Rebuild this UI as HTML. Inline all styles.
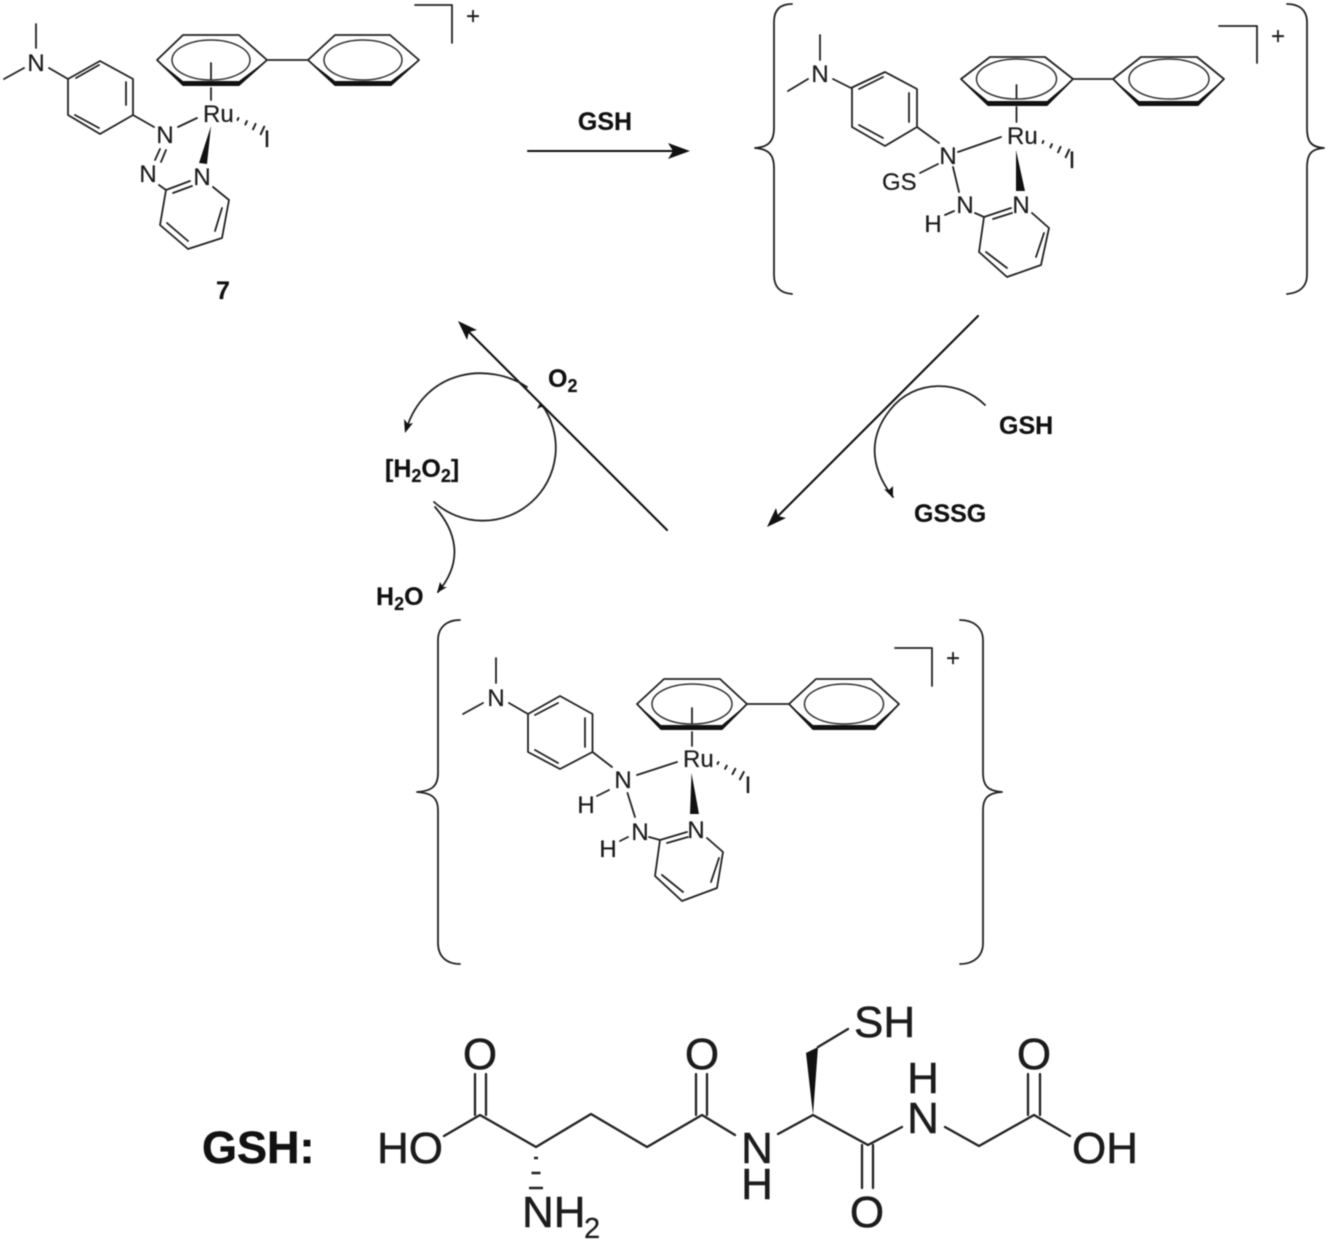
<!DOCTYPE html>
<html><head><meta charset="utf-8"><style>
html,body{margin:0;padding:0;background:#fff}
svg{display:block;filter:blur(.55px)}
text{font-family:"Liberation Sans",Arial,sans-serif;fill:#1c1c1c;stroke:#1c1c1c;stroke-width:.2}
.t{font-size:24px}
.c{text-anchor:middle}
.b{font-weight:bold;font-size:25px;fill:#111}
.g{font-size:44px;stroke-width:.5}
.s{fill:none;stroke:#222;stroke-width:1.8;stroke-linecap:round;stroke-linejoin:round}
.e{fill:none;stroke:#333;stroke-width:1.5}
.k{fill:#111;stroke:none}
.a{fill:none;stroke:#111;stroke-width:2.1;stroke-linecap:round}
.m{fill:none;stroke:#222;stroke-width:2.3;stroke-linecap:round;stroke-linejoin:round}
</style></head><body>
<svg width="1328" height="1243" viewBox="0 0 1328 1243" xmlns="http://www.w3.org/2000/svg">
<defs>
<g id="hash" class="s" style="stroke-width:2"><path d="M0,-1V1M9,-1.8V1.8M18,-3V3M27,-4.2V4.2"/></g>
</defs>

<!-- Complex 7 -->
<g>
<path class="s" d="M36,24V48M4,79L24,68M49,68L68,79L100,61L133,79V115L100,134L68,115V79M76,78L99,65M126,82V105M75,115L99,128M133,115L154,127M178,127L197,118"/>
<path class="s" d="M160,149L155,160M166,150L161,162M159,185L166,190L190,181M173,193L192,186M213,187L229,200L222,238L188,249L160,225L166,190M222,208L215,231M167,223L188,241"/>
<polygon class="k" points="211,126 199,163 207,164"/>
<use href="#hash" transform="translate(238,119) rotate(25)"/>
<path class="s" d="M157,60L183,35H239L267,60L239,85H183ZM267,60H308M308,60L335,35H390L419,60L391,85H335Z"/>
<polygon class="k" points="157,60 183,86 239,86 267,60 239,81 183,81"/>
<polygon class="k" points="308,60 335,86 391,86 419,60 391,81 335,81"/>
<ellipse class="e" cx="211" cy="60" rx="39" ry="20"/>
<ellipse class="e" cx="363" cy="60" rx="39" ry="20"/>
<path class="s" d="M211,63V79M211,88V100M415,5H452V43"/>
<text class="t c" x="36" y="71">N</text>
<text class="t c" x="165" y="143">N</text>
<text class="t c" x="148" y="182">N</text>
<text class="t c" x="202" y="185">N</text>
<text class="t" x="203" y="122">Ru</text>
<text class="t c" x="267" y="147">I</text>
<text class="t c" x="473" y="24">+</text>
<text class="b c" x="223" y="299">7</text>
</g>

<!-- Complex 2 -->
<g>
<path class="s" d="M792,4C780,4 774,10 774,22V128C774,142 768,147 755,148C768,149 774,154 774,168V275C774,287 780,293 792,294"/>
<path class="s" d="M1287,4C1299,4 1307,10 1307,22V128C1307,142 1311,147 1324,148C1311,149 1307,154 1307,168V275C1307,287 1299,293 1287,294"/>
<path class="s" d="M820,35V60M788,91L808,79M833,79L851,88L885,72L917,89V127L885,146L852,127V88M859,89L883,77M909,93V122M859,125L883,138M917,127L939,143M958,152L1001,137M920,173L938,164M953,167L959,192M945,215L954,211M975,213L984,217L1011,208M993,219L1012,213M1032,213L1049,228L1041,265L1007,277L979,252L984,217M1044,233L1036,257M986,252L1007,268"/>
<polygon class="k" points="1016,150 1016,191 1025,191"/>
<use href="#hash" transform="translate(1043,142) rotate(25)"/>
<path class="s" d="M961,79L990,57H1045L1073,79L1047,105H988ZM1073,79H1113M1113,79L1141,57H1197L1224,79L1198,105H1139Z"/>
<polygon class="k" points="961,79 988,106 1047,106 1073,79 1047,101 988,101"/>
<polygon class="k" points="1113,79 1139,106 1198,106 1224,79 1198,101 1139,101"/>
<ellipse class="e" cx="1016.5" cy="79" rx="40" ry="20"/>
<ellipse class="e" cx="1169" cy="79" rx="40" ry="20"/>
<path class="s" d="M1016.5,85V98M1016.5,107V122M1219,26H1257V63"/>
<text class="t c" x="820" y="82">N</text>
<text class="t c" x="948" y="164">N</text>
<text class="t" x="882" y="190">GS</text>
<text class="t c" x="965" y="213">N</text>
<text class="t c" x="933" y="232">H</text>
<text class="t c" x="1021" y="213">N</text>
<text class="t" x="1007" y="144">Ru</text>
<text class="t c" x="1072" y="168">I</text>
<text class="t c" x="1278" y="44">+</text>
</g>

<!-- Complex 3 -->
<g>
<path class="s" d="M460,620C446,620 438,628 438,640V773C438,786 432,791 417,792C432,793 438,798 438,810V943C438,956 446,964 460,964"/>
<path class="s" d="M960,620C974,620 983,628 983,640V773C983,786 988,791 1002,792C988,793 983,798 983,810V943C983,956 974,964 960,964"/>
<path class="s" d="M496,658V683M463,714L483,703M509,703L528,714L560,696L592.5,714V752L560,769L528,752V714M535,715L558,703M585,718V747M535,750L558,763M592.5,752L612,767M637,775L677,762M597,796L609,790M627.5,793L635,817M620,841L628,837M649,837L660,840L687,832M667,843L688,837M707,838L723,852L717,888L682,901L655,876L660,840M719,858L711,882M662,875L683,892"/>
<polygon class="k" points="691.5,773 690,814 699,814"/>
<use href="#hash" transform="translate(718,763) rotate(28)"/>
<path class="s" d="M637,704L664,679H720L747,704L722,729H661ZM747,704H789M789,704L816,679H871L899,704L875,729H813Z"/>
<polygon class="k" points="637,704 661,730 722,730 747,704 722,725 661,725"/>
<polygon class="k" points="789,704 813,730 875,730 899,704 875,725 813,725"/>
<ellipse class="e" cx="692" cy="704" rx="40" ry="20"/>
<ellipse class="e" cx="844" cy="704" rx="39.5" ry="20"/>
<path class="s" d="M692,708V723M692,732V746M895,648H932V686"/>
<text class="t c" x="496" y="706">N</text>
<text class="t c" x="623" y="788">N</text>
<text class="t c" x="586" y="813">H</text>
<text class="t c" x="640" y="840">N</text>
<text class="t c" x="608" y="857">H</text>
<text class="t c" x="696" y="838">N</text>
<text class="t" x="683" y="767">Ru</text>
<text class="t c" x="748" y="793">I</text>
<text class="t c" x="953" y="666">+</text>
</g>

<!-- Reaction arrows -->
<path class="a" d="M528,151H678"/>
<polygon class="k" points="690,151 668,143 673,151 668,159"/>
<text class="b c" x="605" y="130">GSH</text>
<path class="a" d="M978,316L776,518"/>
<polygon class="k" points="767,527 776,508 778,516 786,518"/>
<path class="a" d="M667,530L467,330"/>
<polygon class="k" points="458,321 477,330 469,332 467,340"/>
<path class="s" d="M985,405C960,380 915,378 890,410C870,435 868,465 893,497"/>
<polygon class="k" points="893,498 884,489 889,490 893,486"/>
<text class="b" x="999" y="434">GSH</text>
<text class="b" x="914" y="522">GSSG</text>
<path class="s" d="M434,502A73,73 0 0 0 542,405"/>
<polygon class="k" points="540,403 537,409 541,407 547,409"/>
<path class="s" d="M527,387C490,362 425,368 406,430"/>
<polygon class="k" points="405,433 404,419 408,424 413,423"/>
<path class="s" d="M435,507C455,530 465,560 438,592"/>
<polygon class="k" points="437,593 440,582 443,587 447,587"/>
<text class="b" x="548" y="387">O<tspan font-size="18" dy="5">2</tspan></text>
<text class="b" x="385" y="477">[H<tspan font-size="18" dy="5">2</tspan><tspan dy="-5">O</tspan><tspan font-size="18" dy="5">2</tspan><tspan dy="-5">]</tspan></text>
<text class="b" x="376" y="605">H<tspan font-size="18" dy="5">2</tspan><tspan dy="-5">O</tspan></text>

<!-- GSH structure -->
<text class="b g" x="202" y="1163" style="font-size:45px">GSH:</text>
<path class="m" d="M444,1136L480,1115L536,1147L591,1114L647,1147L702,1115L735,1135M475,1074V1115M486,1074V1115M696,1074V1115M707,1074V1115M778,1134L813,1115L868,1145L902,1127M945,1127L979,1146L1034,1115L1070,1136M1028,1074V1115M1040,1074V1115M862,1145V1188M873,1145V1188M818,1047L848,1029"/>
<polygon class="k" points="813,1115 806,1053 818,1047"/>
<path d="M534,1158H538M531.5,1173H540.5M529,1188H543" stroke="#222" stroke-width="2.4" fill="none"/>
<text class="g" x="377" y="1163">HO</text>
<text class="g c" x="480" y="1069">O</text>
<text class="g c" x="702" y="1069">O</text>
<text class="g c" x="1034" y="1069">O</text>
<text class="g c" x="757" y="1163">N</text>
<text class="g c" x="757" y="1199">H</text>
<text class="g c" x="923" y="1133">N</text>
<text class="g c" x="923" y="1093">H</text>
<text class="g c" x="867" y="1227">O</text>
<text class="g" x="1072" y="1163">OH</text>
<text class="g" x="854" y="1037">SH</text>
<text class="g" x="522" y="1227">NH</text>
<text x="584" y="1238" style="font-size:29px">2</text>
</svg>
</body></html>
